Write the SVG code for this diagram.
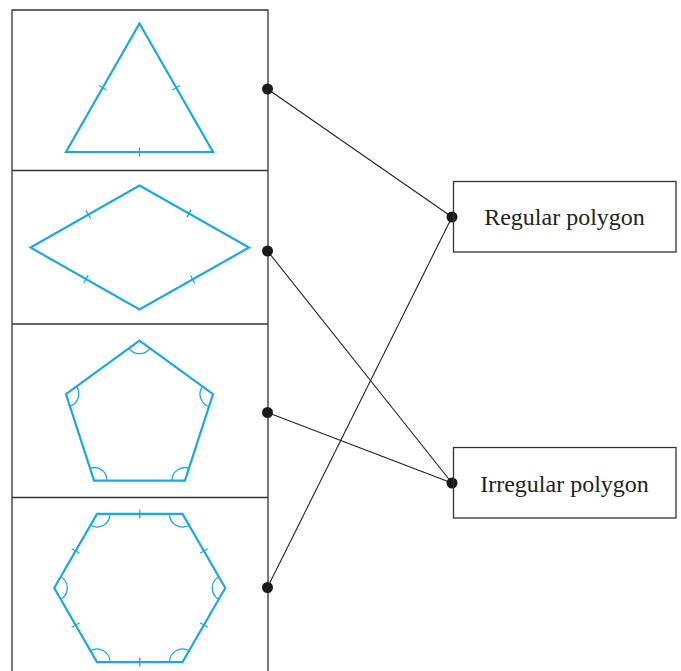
<svg xmlns="http://www.w3.org/2000/svg" xmlns:xlink="http://www.w3.org/1999/xlink" width="681" height="671" viewBox="0 0 681 671">
<style>
.frame{fill:none;stroke:#333;stroke-width:1.3}
.shape{fill:none;stroke:#1ba9e1;stroke-width:2.2;stroke-linejoin:miter}
.mark{fill:none;stroke:#1ba9e1;stroke-width:1.3}
.conn{stroke:#222;stroke-width:1.1;fill:none}
.dot{fill:#1a1a1a}
.label{font-family:"Liberation Serif","Times New Roman",serif;font-size:24px;fill:#222;text-anchor:middle}
</style>
<defs>
<line id="tk" x1="0" y1="-4.5" x2="0" y2="4.5"/>
</defs>
<g id="panel">
<path class="frame" d="M12 671V10H268V671"/>
<line class="frame" x1="12" y1="170.5" x2="268" y2="170.5"/>
<line class="frame" x1="12" y1="324" x2="268" y2="324"/>
<line class="frame" x1="12" y1="497.5" x2="268" y2="497.5"/>
</g>
<g id="triangle">
<polygon class="shape" points="139.5,23.5 213,152 66,152"/>
<g class="mark">
<use xlink:href="#tk" transform="translate(102.75 87.75) rotate(-60.2)"/>
<use xlink:href="#tk" transform="translate(176.25 87.75) rotate(60.2)"/>
<use xlink:href="#tk" transform="translate(139.5 152)"/>
</g>
</g>
<g id="rhombus">
<polygon class="shape" points="139.5,185.5 249,247.5 139.5,309.5 30.5,247.5"/>
<g class="mark">
<use xlink:href="#tk" transform="translate(88.3 214.6) rotate(-29.6)"/>
<use xlink:href="#tk" transform="translate(189 213.5) rotate(29.5)"/>
<use xlink:href="#tk" transform="translate(86 279.1) rotate(29.6)"/>
<use xlink:href="#tk" transform="translate(192.7 279.4) rotate(-29.5)"/>
</g>
</g>
<g id="pentagon">
<polygon class="shape" points="139.5,340.7 213.02,394.11 184.94,480.54 94.06,480.54 65.98,394.11"/>
<g class="mark">
<path d="M150.02 348.34A13 13 0 0 1 128.98 348.34"/>
<path d="M209 406.47A13 13 0 0 1 202.5 386.47"/>
<path d="M171.94 480.54A13 13 0 0 1 188.96 468.18"/>
<path d="M90.04 468.18A13 13 0 0 1 107.06 480.54"/>
<path d="M76.5 386.47A13 13 0 0 1 69 406.47"/>
</g>
</g>
<g id="hexagon">
<polygon class="shape" points="225.25,588 182.5,662.04 97,662.04 54.25,588 97,513.96 182.5,513.96"/>
<g class="mark">
<path d="M218.75 599.26A13 13 0 0 1 218.75 576.74"/>
<path d="M169.5 662.04A13 13 0 0 1 189 650.78"/>
<path d="M90.5 650.78A13 13 0 0 1 110 662.04"/>
<path d="M60.75 576.74A13 13 0 0 1 60.75 599.26"/>
<path d="M110 513.96A13 13 0 0 1 90.5 525.22"/>
<path d="M189 525.22A13 13 0 0 1 169.5 513.96"/>
<use xlink:href="#tk" transform="translate(203.875 625.02) rotate(120)"/>
<use xlink:href="#tk" transform="translate(139.75 662.04) rotate(180)"/>
<use xlink:href="#tk" transform="translate(75.625 625.02) rotate(240)"/>
<use xlink:href="#tk" transform="translate(75.625 550.98) rotate(300)"/>
<use xlink:href="#tk" transform="translate(139.75 513.96)"/>
<use xlink:href="#tk" transform="translate(203.875 550.98) rotate(60)"/>
</g>
</g>
<g id="connectors">
<line class="conn" x1="267.5" y1="89" x2="452" y2="217"/>
<line class="conn" x1="267.5" y1="251" x2="452" y2="483"/>
<line class="conn" x1="267.5" y1="412.5" x2="452" y2="483"/>
<line class="conn" x1="267.5" y1="587.5" x2="452" y2="217"/>
<circle class="dot" cx="267.5" cy="89" r="5.5"/>
<circle class="dot" cx="267.5" cy="251" r="5.5"/>
<circle class="dot" cx="267.5" cy="412.5" r="5.5"/>
<circle class="dot" cx="267.5" cy="587.5" r="5.5"/>
<circle class="dot" cx="452" cy="217" r="5.5"/>
<circle class="dot" cx="452" cy="483" r="5.5"/>
</g>
<g id="regular">
<rect class="frame" x="453.5" y="181.5" width="222.5" height="70.5"/>
<text class="label" x="564.5" y="225">Regular polygon</text>
</g>
<g id="irregular">
<rect class="frame" x="453.5" y="447.5" width="222.5" height="70.5"/>
<text class="label" x="564.5" y="491.5">Irregular polygon</text>
</g>
</svg>
